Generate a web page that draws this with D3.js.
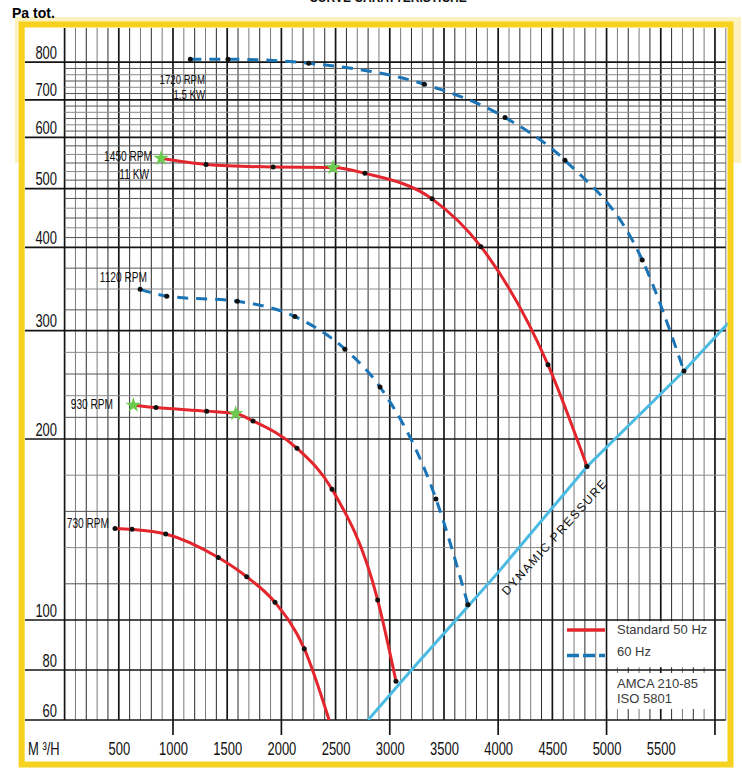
<!DOCTYPE html>
<html><head><meta charset="utf-8">
<script src="https://cdn.jsdelivr.net/npm/d3@7"></script>
<style>body{margin:0;background:#fff}svg{display:block}</style>
</head><body>
<svg id="c" width="742" height="773"></svg>
<script>
// ---- data ----
const xTickLabels = [500,1000,1500,2000,2500,3000,3500,4000,4500,5000,5500];
const yTickLabels = [800,700,600,500,400,300,200,100,80,60];

// 1720 RPM 60 Hz (dashed)
const q1720 = [1160,1507,2252,3318,4063,4616,5329,5714];
const p1720 = [809,809,797,740,651,553,383,258];
// 1450 RPM 50 Hz
const q1450 = [890,1305,1924,2476,2771,3390,3841,4460,4820];
const p1450 = [557,545,540,539,528,481,401,264,180];
const star1450 = [0,3];
// 1120 RPM 60 Hz (dashed)
const q1120 = [697,942,1593,2125,2586,2910,3426,3722];
const p1120 = [346,338,332,315,280,243,159,106];
// 930 RPM 50 Hz
const q930 = [634,843,1311,1578,1738,2144,2467,2888,3057];
const p930 = [227,225,222,220,214,193,165,108,75];
const star930 = [0,3];
// 730 RPM 50 Hz
const q730 = [465,622,933,1418,1680,1941,2211,2440];
const p730 = [142,141.5,139,127,118,107,88,60];
const dots730 = [0,1,2,3,4,5,6];
// dynamic pressure line
const qDyn = [2800,3200,3610,4000,4820,5714,6122];
const pDyn = [60,80,100,120,180,258,308];

// ---- scales ----
const svg = d3.select('#c');
const x = d3.scaleLinear().domain([0,6100]).range([64.6,725.8]);
const y = d3.scaleLog()
  .domain([60,80,100,200,300,400,500,600,700,800,900])
  .range([720,670,620,439,330.7,247.3,188.7,137.3,99.8,62.2,30.6]);

const RED = '#e3262d', BLUE = '#1a74b6', CYAN = '#4bbbe3', YEL = '#f6d21f';
const FONT = 'Liberation Sans, Arial, sans-serif';

// backgrounds
svg.append('rect').attr('x',15).attr('y',17).attr('width',726).attr('height',146).attr('fill','#fdf1c0');
svg.append('rect').attr('x',21).attr('y',24).attr('width',710).attr('height',741).attr('fill','#fff');

// cut-off header text
svg.append('text').attr('x',388).attr('y',2).attr('text-anchor','middle')
  .attr('font-family',FONT).attr('font-weight','bold').attr('font-size',12).attr('fill','#111')
  .text('CURVE CARATTERISTICHE');
svg.append('text').attr('x',12).attr('y',18).attr('font-family',FONT).attr('font-weight','bold')
  .attr('font-size',14).attr('fill','#000').text('Pa tot.');

// ---- grid ----
const grid = svg.append('g');
const x0 = x.range()[0], x1 = x.range()[1];
const yTop = 28, yBot = y(60);
// vertical lines
d3.range(0,6101,100).forEach(v => {
  const major = v % 500 === 0;
  grid.append('line').attr('x1',x(v)).attr('x2',x(v)).attr('y1',yTop)
    .attr('y2', (v % 1000 === 0 && v > 0) ? yBot + 15 : yBot)
    .attr('stroke', major ? '#151515' : ((v/100) % 2 ? '#7a7a7a' : '#2a2a2a'))
    .attr('stroke-width', major ? 1.7 : 1);
});
// minor horizontal lines
const minorSets = [[100,200,5],[200,300,5],[300,400,4],[400,500,6],[500,600,6],[600,700,6],[700,800,6]];
minorSets.forEach(([a,b,n]) => {
  d3.range(1,n).forEach(i => {
    const v = a*Math.pow(b/a, i/n);
    grid.append('line').attr('x1',x0).attr('x2',x1).attr('y1',y(v)).attr('y2',y(v))
      .attr('stroke', i % 2 ? '#555' : '#8a8a8a').attr('stroke-width',1);
  });
});
// major horizontal lines
yTickLabels.forEach(v => {
  grid.append('line').attr('x1',25).attr('x2',x1).attr('y1',y(v)).attr('y2',y(v))
    .attr('stroke','#151515').attr('stroke-width',1.7);
});

// legend white boxes (cover grid)
svg.append('rect').attr('x',x(5000)+1.2).attr('y',y(100)+1.2).attr('width',x(6000)-x(5000)-2.4).attr('height',46).attr('fill','#fff');
svg.append('rect').attr('x',x(5000)+1.2).attr('y',y(80)+3).attr('width',x(6000)-x(5000)-2.4).attr('height',36).attr('fill','#fff');

// ---- axes labels ----
const xAxis = d3.axisBottom(x).tickValues(xTickLabels).tickSize(0).tickPadding(0).tickFormat(d3.format('d'));
const gx = svg.append('g').attr('transform','translate(0,755)').call(xAxis);
gx.select('.domain').remove();
gx.selectAll('text').attr('y',0).attr('dy',0).attr('font-size',18).attr('font-family',FONT)
  .attr('fill','#111').attr('transform','scale(0.72,1)');

const yAxis = d3.axisLeft(y).tickValues(yTickLabels).tickSize(0).tickPadding(0).tickFormat(d3.format('d'));
const gy = svg.append('g').attr('transform','translate(57,0)').call(yAxis);
gy.select('.domain').remove();
gy.selectAll('text').attr('x',0).attr('dy',-4).attr('font-size',18).attr('font-family',FONT)
  .attr('fill','#111').attr('transform','scale(0.72,1)');

function ctext(px, py, str, size, anchor, sx) {
  return svg.append('text').attr('transform',`translate(${px},${py}) scale(${sx||0.7},1)`)
    .attr('text-anchor',anchor).attr('font-size',size).attr('font-family',FONT).attr('fill','#111').text(str);
}
ctext(28,755,'M \u00B3/H',18,'start',0.72);

// ---- curves ----
const clip = svg.append('clipPath').attr('id','pc').append('rect')
  .attr('x',x0).attr('y',yTop).attr('width',x1-x0+4).attr('height',yBot-yTop);
const line = d3.line().x(d=>x(d[0])).y(d=>y(d[1])).curve(d3.curveMonotoneX);
const cg = svg.append('g').attr('clip-path','url(#pc)');

// dynamic pressure
cg.append('path').attr('d', d3.line().x(d=>x(d[0])).y(d=>y(d[1]))(d3.zip(qDyn,pDyn)))
  .attr('fill','none').attr('stroke',CYAN).attr('stroke-width',3);

function curve(q,p,color,dashed){
  cg.append('path').attr('d',line(d3.zip(q,p))).attr('fill','none').attr('stroke',color)
    .attr('stroke-width',3).attr('stroke-dasharray',dashed ? '11,8' : null);
}
curve(q1720,p1720,BLUE,true);
curve(q1450,p1450,RED,false);
curve(q1120,p1120,BLUE,true);
curve(q930,p930,RED,false);
curve(q730,p730,RED,false);

function dots(q,p,idx){
  idx.forEach(i => svg.append('circle').attr('cx',x(q[i])).attr('cy',y(p[i])).attr('r',2.5).attr('fill','#111'));
}
function stars(q,p,idx){
  idx.forEach(i => svg.append('path').attr('d',d3.symbol().type(d3.symbolStar).size(75)())
    .attr('transform',`translate(${x(q[i])},${y(p[i])})`).attr('fill','#6acb4c'));
}
dots(q1720,p1720,d3.range(q1720.length));
dots(q1450,p1450,d3.range(q1450.length).filter(i=>!star1450.includes(i)));
stars(q1450,p1450,star1450);
dots(q1120,p1120,d3.range(q1120.length));
dots(q930,p930,d3.range(q930.length).filter(i=>!star930.includes(i)));
stars(q930,p930,star930);
dots(q730,p730,dots730);

// ---- curve labels ----
ctext(205,83.5,'1720 RPM',13,'end',0.74);
ctext(205,98.5,'1,5  KW',13,'end',0.74);
ctext(152,161,'1450 RPM',14.5,'end');
ctext(149,179,'11  KW',14.5,'end');
ctext(147,282,'1120 RPM',14.5,'end');
ctext(113,409,'930 RPM',14.5,'end');
ctext(109,528,'730 RPM',14.5,'end');

// dynamic pressure label
svg.append('text').attr('transform','translate(507,596) rotate(-48)')
  .attr('font-family',FONT).attr('font-size',12).attr('fill','#111')
  .attr('textLength',150).attr('lengthAdjust','spacing').text('DYNAMIC PRESSURE');

// ---- legend ----
svg.append('line').attr('x1',567).attr('x2',605).attr('y1',630).attr('y2',630).attr('stroke',RED).attr('stroke-width',3.5);
svg.append('line').attr('x1',567).attr('x2',605).attr('y1',655.5).attr('y2',655.5).attr('stroke',BLUE).attr('stroke-width',3.5).attr('stroke-dasharray','12,4');
const lt = (px,py,s) => svg.append('text').attr('x',px).attr('y',py).attr('font-family',FONT).attr('font-size',13).attr('fill','#3a3a3a').text(s);
lt(617,633.5,'Standard 50 Hz');
lt(617,656,'60 Hz');
lt(617,688,'AMCA 210-85');
lt(617,702.5,'ISO 5801');

// ---- yellow frame ----
svg.append('rect').attr('x',21.7).attr('y',24.5).attr('width',708.8).attr('height',740).attr('fill','none')
  .attr('stroke',YEL).attr('stroke-width',6);
</script>
</body></html>
